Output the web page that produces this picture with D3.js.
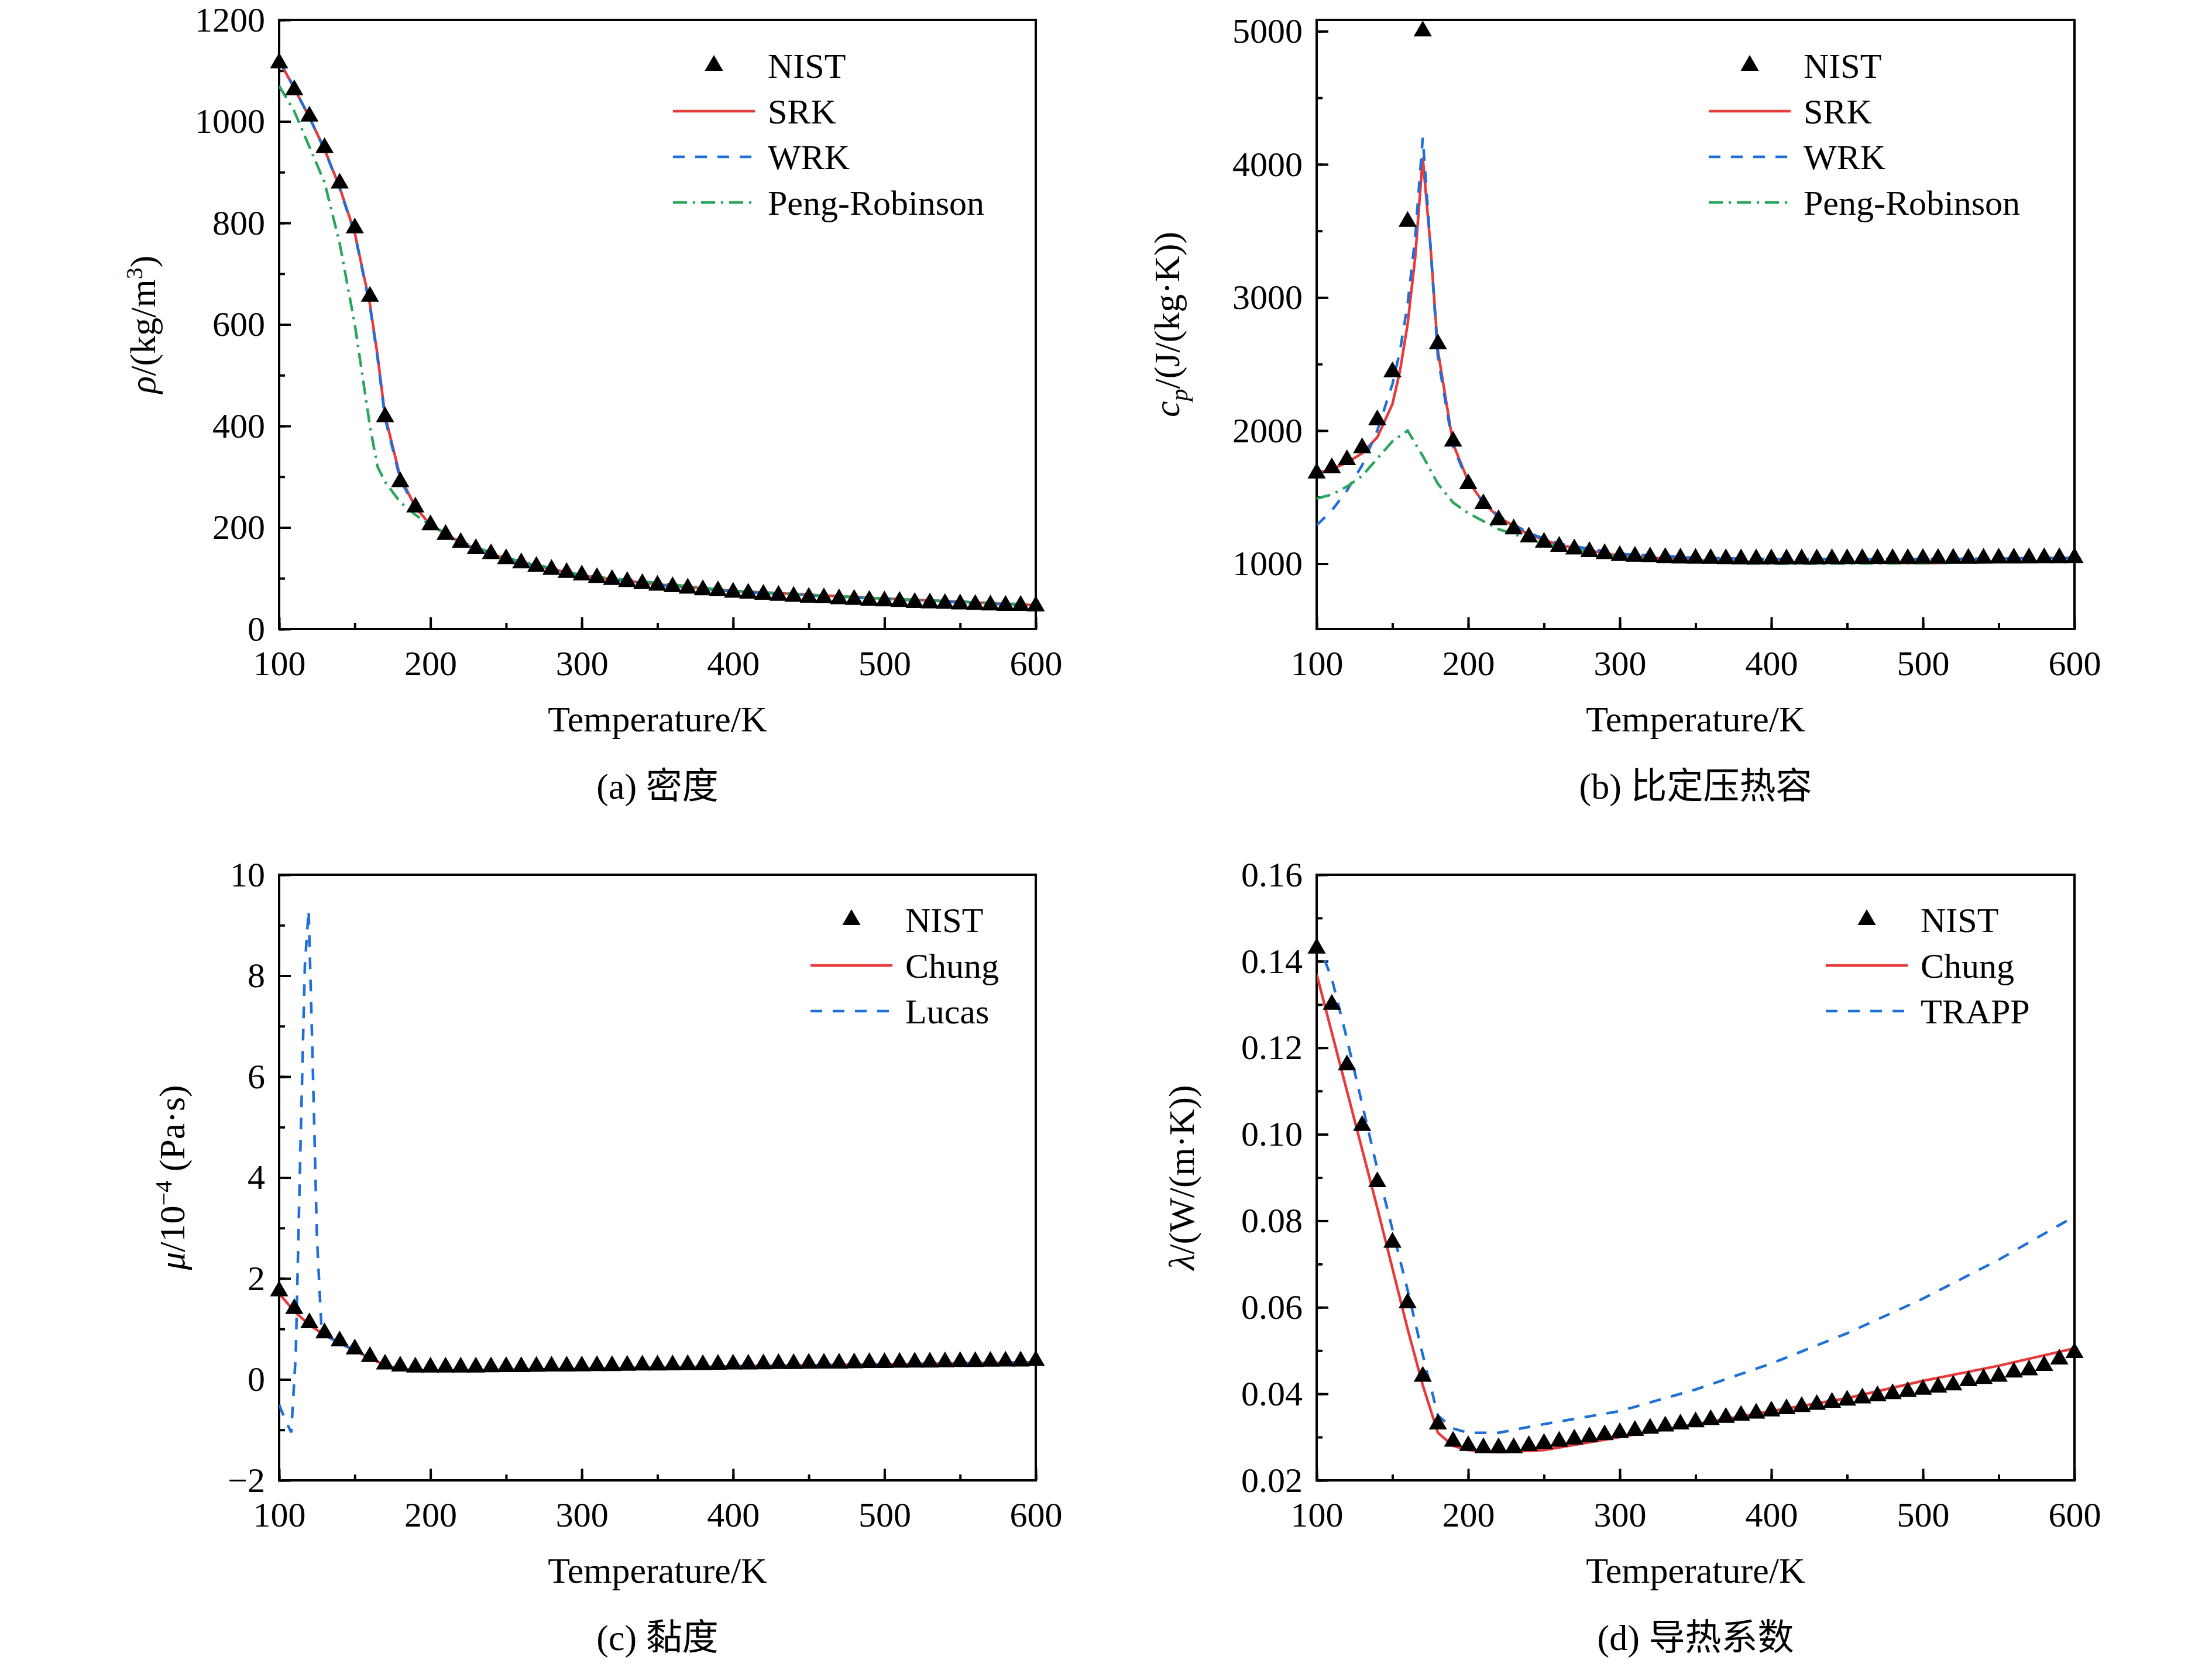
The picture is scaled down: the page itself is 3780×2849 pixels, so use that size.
<!DOCTYPE html>
<html>
<head>
<meta charset="UTF-8">
<script src="https://d3js.org/d3.v7.min.js"></script>
<style>
body{margin:0;background:#fff;}
text{font-family:"Liberation Serif","DejaVu Serif",serif;fill:#000;}
.cap{font-family:"Liberation Serif","Noto Sans CJK SC",serif;}
</style>
</head>
<body>
<svg id="c" width="3780" height="2849"></svg>
<script>
// temperatures of NIST points (K)
const tNist = d3.range(100, 601, 10);

// (a) density kg/m3
const rhoNist = [1115,1062,1010,948,878,790,655,418,290,240,205,186,170,158,148,138,130,123,117,111,106,101,97,93,89,86,83,80,77,75,72,70,68,66,64,62,61,59,58,56,55,54,52,51,50,49,48,47,46,46,45];
const rhoSrkT = [100,110,120,130,140,150,160,165,170,180,190,200,220,250,300,350,400,500,600];
const rhoSrk  = [1120,1065,1008,945,870,780,640,540,420,300,240,205,170,138,105,88,75,60,47];
const rhoWrk  = [1122,1066,1008,944,868,778,636,535,415,295,238,203,168,136,104,87,74,59,46];
const rhoPrT  = [100,110,120,130,140,145,150,155,160,165,170,175,180,190,200,220,250,300,400,500,600];
const rhoPr   = [1070,1020,950,880,760,680,600,500,400,320,290,270,250,225,205,172,140,106,75,60,48];

// (b) cp J/(kg K)
const cpNist = [1680,1720,1780,1870,2080,2440,3570,5000,2650,1920,1600,1450,1330,1260,1200,1160,1130,1110,1090,1075,1060,1055,1050,1045,1042,1040,1038,1036,1035,1035,1035,1035,1035,1035,1036,1036,1037,1037,1038,1038,1039,1039,1040,1040,1041,1042,1042,1043,1044,1044,1045];
const cpLineT = [100,110,120,130,140,150,155,160,165,170,175,180,190,200,210,220,240,260,300,350,400,500,600];
const cpSrk = [1680,1710,1760,1830,1950,2200,2450,2800,3300,4050,3400,2600,1900,1620,1460,1350,1220,1140,1060,1025,1010,1005,1020];
const cpWrk = [1290,1400,1550,1740,2000,2350,2600,2950,3450,4200,3400,2550,1880,1610,1460,1360,1230,1150,1075,1045,1035,1035,1045];
const cpPrT = [100,110,120,130,140,150,160,170,180,190,200,220,250,300,350,400,500,600];
const cpPr  = [1490,1520,1580,1660,1790,1920,2000,1810,1600,1460,1380,1260,1150,1050,1015,1000,1005,1020];

// (c) viscosity 1e-4 Pa s
const muNist = [1.75,1.4,1.12,0.92,0.76,0.6,0.45,0.3,0.26,0.24,0.24,0.24,0.24,0.24,0.245,0.25,0.25,0.255,0.26,0.26,0.265,0.27,0.27,0.275,0.28,0.28,0.285,0.29,0.29,0.295,0.3,0.3,0.305,0.31,0.31,0.315,0.32,0.32,0.325,0.33,0.33,0.335,0.34,0.34,0.345,0.35,0.35,0.355,0.36,0.36,0.37];
const muChungT = [100,110,120,130,140,150,160,170,180,200,250,300,400,500,600];
const muChung  = [1.7,1.35,1.08,0.88,0.72,0.57,0.42,0.28,0.2,0.17,0.19,0.21,0.26,0.3,0.34];
const muLucasT = [100,104,108,111,114,117,119.5,122,125,128,130,140,150,160,170,180,200,250,300,400,500,600];
const muLucas  = [-0.5,-0.8,-1.05,0.5,4.5,8.2,9.3,6.5,2.8,1.0,0.88,0.72,0.57,0.42,0.28,0.2,0.17,0.19,0.21,0.26,0.3,0.34];

// (d) thermal conductivity W/(m K)
const lamNist = [0.143,0.130,0.116,0.102,0.089,0.075,0.061,0.044,0.033,0.029,0.028,0.0275,0.0275,0.0275,0.028,0.0285,0.029,0.0295,0.030,0.0305,0.031,0.0315,0.032,0.0325,0.033,0.0335,0.034,0.0345,0.035,0.0355,0.036,0.0365,0.037,0.0375,0.038,0.0385,0.039,0.0395,0.040,0.0405,0.041,0.0415,0.042,0.043,0.0435,0.044,0.045,0.0455,0.0465,0.048,0.0495];
const lamChungT = [100,120,140,160,170,180,190,200,220,250,300,350,400,450,500,550,600];
const lamChung  = [0.137,0.110,0.083,0.055,0.042,0.031,0.028,0.027,0.0265,0.027,0.030,0.033,0.036,0.039,0.043,0.0465,0.0505];
const lamTrappT = [100,110,120,130,140,150,160,170,180,190,200,220,250,300,350,400,450,500,550,600];
const lamTrapp  = [0.145,0.136,0.122,0.107,0.092,0.078,0.064,0.049,0.035,0.032,0.031,0.031,0.033,0.036,0.041,0.047,0.054,0.062,0.071,0.081];

const xTicks = [100,200,300,400,500,600];
const svg = d3.select("#c");
const RED = "#e8393b", BLUE = "#1e6fd9", GREEN = "#2aa65a";

function panel(o){
  const g = svg.append("g");
  const x = d3.scaleLinear().domain([100,600]).range([o.x0,o.x1]);
  const y = d3.scaleLinear().domain(o.ydom).range([o.y1,o.y0]);
  const clipId = "clip" + o.id;
  g.append("clipPath").attr("id", clipId).append("rect")
    .attr("x", o.x0).attr("y", o.y0).attr("width", o.x1-o.x0).attr("height", o.y1-o.y0);

  // axes with inward ticks
  const xMinor = d3.range(100,601,50);
  g.append("g").attr("transform",`translate(0,${o.y1})`)
    .call(d3.axisBottom(x).tickValues(xMinor).tickSize(-10).tickFormat(""))
    .call(a=>a.select(".domain").remove())
    .selectAll("line").attr("stroke-width",4);
  g.append("g").attr("transform",`translate(0,${o.y1})`)
    .call(d3.axisBottom(x).tickValues(xTicks).tickSize(-20).tickPadding(36))
    .call(a=>a.select(".domain").remove())
    .call(a=>a.selectAll("line").attr("stroke-width",4))
    .call(a=>a.selectAll("text").attr("font-size",60).attr("dy","0.71em"));
  g.append("g").attr("transform",`translate(${o.x0},0)`)
    .call(d3.axisLeft(y).tickValues(o.yMinor).tickSize(-10).tickFormat(""))
    .call(a=>a.select(".domain").remove())
    .selectAll("line").attr("stroke-width",4);
  g.append("g").attr("transform",`translate(${o.x0},0)`)
    .call(d3.axisLeft(y).tickValues(o.yTicks).tickSize(-20).tickPadding(24).tickFormat(o.fmt))
    .call(a=>a.select(".domain").remove())
    .call(a=>a.selectAll("line").attr("stroke-width",4))
    .call(a=>a.selectAll("text").attr("font-size",60));
  g.append("rect").attr("x",o.x0).attr("y",o.y0).attr("width",o.x1-o.x0).attr("height",o.y1-o.y0)
    .attr("fill","none").attr("stroke","#000").attr("stroke-width",4);

  const line = d3.line().x(d=>x(d[0])).y(d=>y(d[1]));
  const plot = g.append("g").attr("clip-path",`url(#${clipId})`);
  o.series.forEach(s=>{
    plot.append("path").datum(d3.zip(s.t,s.v)).attr("d",line)
      .attr("fill","none").attr("stroke",s.color).attr("stroke-width",4.5)
      .attr("stroke-dasharray",s.dash||null);
  });
  const tri = d3.symbol().type(d3.symbolTriangle).size(420);
  g.append("g").selectAll("path").data(d3.zip(tNist,o.nist)).join("path")
    .attr("d",tri).attr("transform",d=>`translate(${x(d[0])},${y(d[1])})`).attr("fill","#000");

  // legend
  const items = [{name:"NIST",marker:true}].concat(o.series);
  items.forEach((it,i)=>{
    const ly = o.legY + i*78;
    if(it.marker){
      g.append("path").attr("d",tri).attr("transform",`translate(${o.legX+70},${ly})`).attr("fill","#000");
    } else {
      g.append("line").attr("x1",o.legX).attr("x2",o.legX+140).attr("y1",ly).attr("y2",ly)
        .attr("stroke",it.color).attr("stroke-width",4.5).attr("stroke-dasharray",it.dash||null);
    }
    g.append("text").attr("x",o.legX+162).attr("y",ly).attr("dy","0.35em").attr("font-size",60).text(it.name);
  });

  // titles
  g.append("text").attr("x",(o.x0+o.x1)/2).attr("y",o.y1+175).attr("text-anchor","middle")
    .attr("font-size",62).text("Temperature/K");
  g.append("text").attr("class","cap").attr("x",(o.x0+o.x1)/2).attr("y",o.y1+290).attr("text-anchor","middle")
    .attr("font-size",62).text(o.caption);
  const yl = g.append("text").attr("transform",`translate(${o.ylx},${(o.y0+o.y1)/2}) rotate(-90)`)
    .attr("text-anchor","middle").attr("font-size",62);
  o.ylabel(yl);
}

panel({id:"a",x0:477,x1:1770,y0:34,y1:1075,ydom:[0,1200],yTicks:d3.range(0,1201,200),yMinor:d3.range(0,1201,100),
  fmt:d3.format("d"),nist:rhoNist,caption:"(a) 密度",ylx:265,legX:1150,legY:112,
  series:[{name:"SRK",t:rhoSrkT,v:rhoSrk,color:RED},
          {name:"WRK",t:rhoSrkT,v:rhoWrk,color:BLUE,dash:"20,18"},
          {name:"Peng-Robinson",t:rhoPrT,v:rhoPr,color:GREEN,dash:"24,10,4,10"}],
  ylabel:t=>{t.append("tspan").attr("font-style","italic").text("ρ");t.append("tspan").text("/(kg/m");
    t.append("tspan").attr("font-size",40).attr("dy",-22).text("3");t.append("tspan").attr("dy",22).text(")");}});

panel({id:"b",x0:2250,x1:3545,y0:34,y1:1075,ydom:[510,5085],yTicks:d3.range(1000,5001,1000),yMinor:d3.range(1000,5001,500),
  fmt:d3.format("d"),nist:cpNist,caption:"(b) 比定压热容",ylx:2015,legX:2920,legY:112,
  series:[{name:"SRK",t:cpLineT,v:cpSrk,color:RED},
          {name:"WRK",t:cpLineT,v:cpWrk,color:BLUE,dash:"20,18"},
          {name:"Peng-Robinson",t:cpPrT,v:cpPr,color:GREEN,dash:"24,10,4,10"}],
  ylabel:t=>{t.append("tspan").attr("font-style","italic").text("c");
    t.append("tspan").attr("font-style","italic").attr("font-size",42).attr("dy",14).text("p");
    t.append("tspan").attr("dy",-14).text("/(J/(kg·K))");}});

panel({id:"c",x0:477,x1:1770,y0:1495,y1:2530,ydom:[-2,10],yTicks:d3.range(-2,11,2),yMinor:d3.range(-2,10.1,1),
  fmt:d=>d<0?"\u2212"+(-d):d,nist:muNist,caption:"(c) 黏度",ylx:315,legX:1385,legY:1572,
  series:[{name:"Chung",t:muChungT,v:muChung,color:RED},
          {name:"Lucas",t:muLucasT,v:muLucas,color:BLUE,dash:"20,18"}],
  ylabel:t=>{t.append("tspan").attr("font-style","italic").text("μ");t.append("tspan").text("/10");
    t.append("tspan").attr("font-size",40).attr("dy",-22).text("\u22124");t.append("tspan").attr("dy",22).text(" (Pa·s)");}});

panel({id:"d",x0:2250,x1:3545,y0:1495,y1:2530,ydom:[0.02,0.16],yTicks:d3.range(0.02,0.161,0.02),yMinor:d3.range(0.02,0.161,0.01),
  fmt:d3.format(".2f"),nist:lamNist,caption:"(d) 导热系数",ylx:2040,legX:3120,legY:1572,
  series:[{name:"Chung",t:lamChungT,v:lamChung,color:RED},
          {name:"TRAPP",t:lamTrappT,v:lamTrapp,color:BLUE,dash:"20,18"}],
  ylabel:t=>{t.append("tspan").attr("font-style","italic").text("λ");t.append("tspan").text("/(W/(m·K))");}});
</script>
</body>
</html>
